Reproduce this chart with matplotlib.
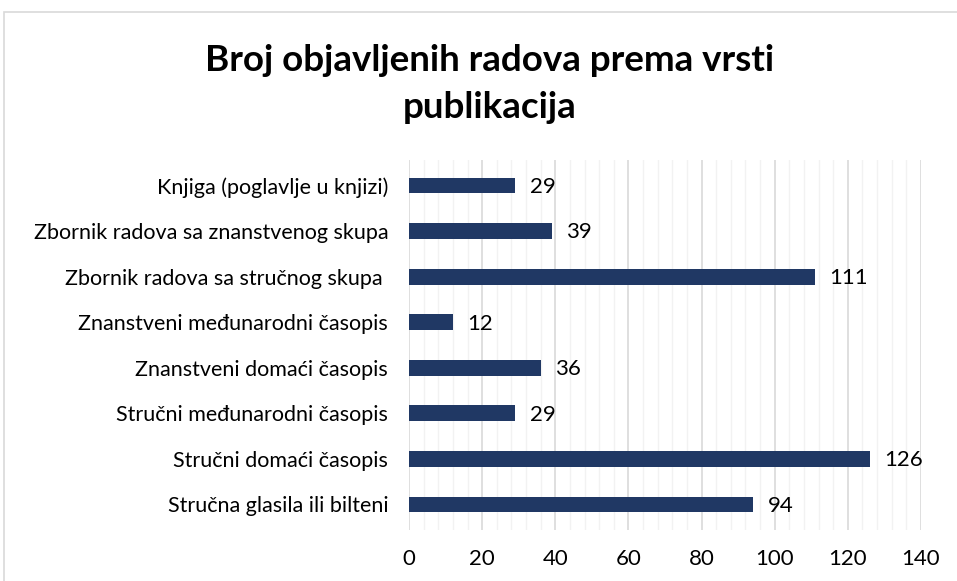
import matplotlib
matplotlib.use("Agg")
import matplotlib.pyplot as plt
from matplotlib.patches import Rectangle
from matplotlib.ticker import MultipleLocator

categories = [
    "Knjiga (poglavlje u knjizi)",
    "Zbornik radova sa znanstvenog skupa",
    "Zbornik radova sa stručnog skupa ",
    "Znanstveni međunarodni časopis",
    "Znanstveni domaći časopis",
    "Stručni međunarodni časopis",
    "Stručni domaći časopis",
    "Stručna glasila ili bilteni",
]
values = [29, 39, 111, 12, 36, 29, 126, 94]
title = "Broj objavljenih radova prema vrsti\npublikacija"

plt.rcParams["font.family"] = ["Lato", "DejaVu Sans"]

fig = plt.figure(figsize=(9.57, 5.81), dpi=100)
ax = fig.add_axes([409 / 957, 1 - 530 / 581, 512 / 957, 370 / 581])

# outer chart border
fig.patches.append(Rectangle((4 / 957, -0.1), 1.1, 1 - 12 / 581 + 0.1,
                             transform=fig.transFigure, fill=False,
                             edgecolor="#d9d9d9", linewidth=1.2))

ypos = list(range(len(categories)))[::-1]
ax.barh(ypos, values, height=0.35, color="#203864", zorder=3)
for y, v in zip(ypos, values):
    ax.text(v + 4, y - 0.03, str(v), va="center", ha="left", fontsize=16, color="black")

ax.set_xlim(0, 140)
ax.set_ylim(-0.56, 7.56)
ax.xaxis.set_major_locator(MultipleLocator(20))
ax.xaxis.set_minor_locator(MultipleLocator(4))
ax.grid(axis="x", which="major", color="#d9d9d9", linewidth=1.2, zorder=0)
ax.grid(axis="x", which="minor", color="#f2f2f2", linewidth=1.0, zorder=0)
ax.set_yticks(ypos)
ax.set_yticklabels(categories, fontsize=15.5)
ax.tick_params(axis="both", which="both", length=0)
ax.tick_params(axis="y", pad=15)
ax.tick_params(axis="x", labelsize=16, pad=14)
for s in ax.spines.values():
    s.set_visible(False)

fig.text(490 / 957, 1 - 84 / 581, title, ha="center", va="center",
         fontsize=26.5, fontweight="bold", linespacing=1.55)

fig.savefig("out.png", dpi=100)
